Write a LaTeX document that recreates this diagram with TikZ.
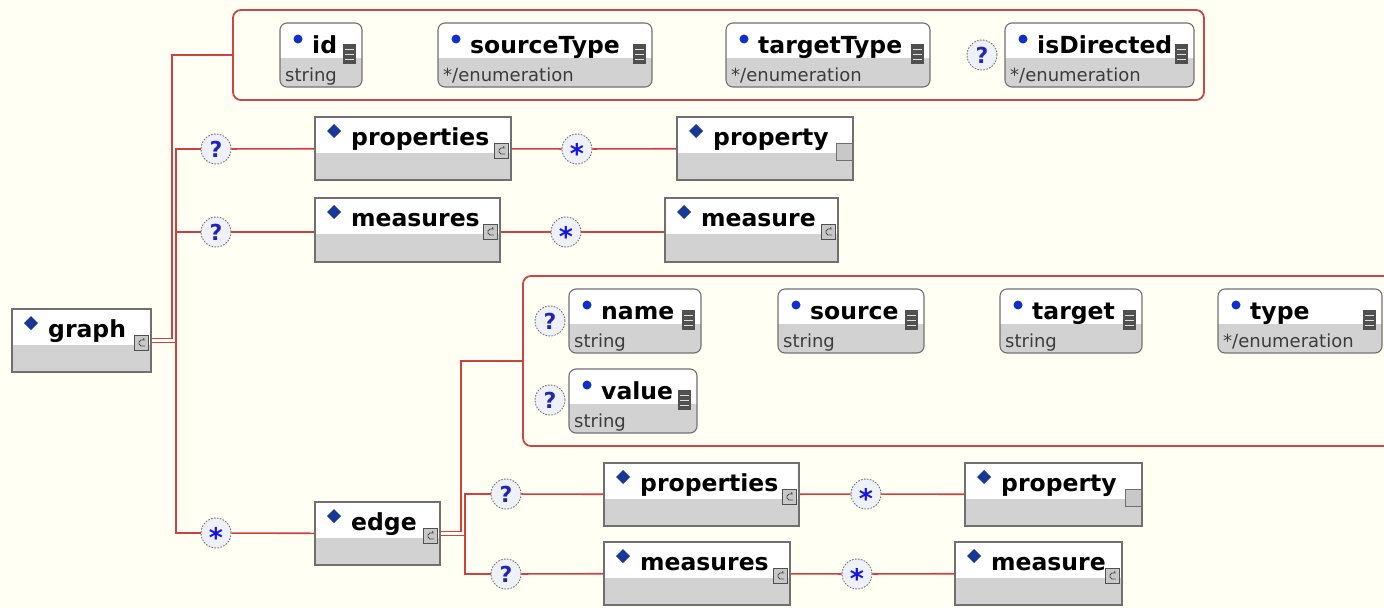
\documentclass[tikz,border=0pt]{standalone}
\usepackage{fontspec}
\setmainfont{DejaVu Sans}
\usetikzlibrary{fit}
\definecolor{bg}{RGB}{255,255,243}
\definecolor{redline}{RGB}{208,64,64}
\definecolor{grpred}{RGB}{204,70,70}
\definecolor{elgray}{RGB}{210,210,210}
\definecolor{elborder}{RGB}{112,112,112}
\definecolor{diamblue}{RGB}{24,56,150}
\definecolor{dotblue}{RGB}{16,48,200}
\definecolor{qblue}{RGB}{36,36,180}
\definecolor{sblue}{RGB}{20,20,230}
\definecolor{circfill}{RGB}{238,241,247}
\definecolor{circborder}{RGB}{115,115,115}
\definecolor{icongray}{RGB}{200,200,200}
\definecolor{icondark}{RGB}{80,80,80}
\definecolor{subtext}{RGB}{60,60,60}
\tikzset{
  conn/.style={draw=redline, line width=1.6pt},
  grp/.style={draw=grpred, line width=1.8pt, rounded corners=8pt, inner sep=0pt},
  elframe/.style={draw=elborder, line width=1.3pt, inner sep=0pt},
  atframe/.style={draw=elborder, line width=1.1pt, rounded corners=7pt, inner sep=0pt},
  ellabel/.style={anchor=base west, inner sep=0pt, font=\fontsize{23.5}{23.5}\selectfont\bfseries},
  sublabel/.style={anchor=base west, inner sep=0pt, font=\fontsize{18}{18}\selectfont, text=subtext},
  occ/.style={circle, minimum size=30pt, inner sep=0pt, fill=circfill, draw=circborder, line width=0.9pt, dash pattern=on 1.6pt off 1.4pt},
  qmark/.style={occ, text=qblue, font=\fontsize{22}{22}\selectfont\bfseries},
  smark/.style={occ, text=sblue, font=\fontsize{27}{27}\selectfont\bfseries},
}
% icons: #1 = x2, #2 = y1
\newcommand{\iconC}[2]{%
  \draw[fill=icongray, draw=icondark, line width=0.8pt] ({#1-17},{#2+26}) rectangle ({#1-3},{#2+41});
  \draw[icondark, line width=0.8pt] ({#1-6},{#2+31}) -- ({#1-10},{#2+31}) -- ({#1-12},{#2+33}) -- ({#1-12},{#2+35}) -- ({#1-10},{#2+37}) -- ({#1-6},{#2+37});
  \draw[icondark, line width=0.8pt] ({#1-8},{#2+31}) -- ({#1-7},{#2+29});
}
\newcommand{\iconS}[2]{%
  \draw[fill=icongray, draw=elborder, line width=0.8pt] ({#1-17},{#2+26}) rectangle ({#1-1},{#2+43});
}
\newcommand{\iconA}[2]{%
  \fill[icondark] ({#1-19},{#2+21}) rectangle ({#1-6},{#2+41});
  \foreach \yy in {26,31,36} \draw[white!75!gray, line width=1pt] ({#1-17},{#2+\yy}) -- ({#1-8},{#2+\yy});
}
% element box: name x1 y1 x2 y2 label icon
\newcommand{\elbox}[7]{%
  \fill[white] (#2,#3) rectangle (#4,#5);
  \fill[elgray] (#2,{#3+36}) rectangle (#4,#5);
  \node[elframe, fit={(#2,#3) (#4,#5)}] (#1) {};
  \fill[diamblue] ({#2+19},{#3+7}) -- ({#2+26},{#3+14}) -- ({#2+19},{#3+21}) -- ({#2+12},{#3+14}) -- cycle;
  \node[ellabel] (#1-l) at ({#2+36},{#3+28}) {#6};
  \csname icon#7\endcsname{#4}{#3}%
}
% attribute box: name x1 y1 x2 y2 label subtext
\newcommand{\atbox}[7]{%
  \begin{scope}
    \clip[rounded corners=7pt] (#2,#3) rectangle (#4,#5);
    \fill[white] (#2,#3) rectangle (#4,{#3+35});
    \fill[elgray] (#2,{#3+35}) rectangle (#4,#5);
  \end{scope}
  \node[atframe, fit={(#2,#3) (#4,#5)}] (#1) {};
  \fill[dotblue] ({#2+18},{#3+16}) circle (4.5pt);
  \node[ellabel] (#1-l) at ({#2+32},{#3+30}) {#6};
  \node[sublabel] (#1-s) at ({#2+5},{#3+58}) {#7};
  \iconA{#4}{#3}%
}
\begin{document}
\begin{tikzpicture}[x=1pt, y=-1pt]
\useasboundingbox (0,0) rectangle (1384,608);
\fill[bg] (0,0) rectangle (1384,608);
\clip (0,0) rectangle (1384,608);

% attribute groups
\node[grp, fit={(233,10) (1204,100)}] (grpA) {};
\node[grp, fit={(523,276) (1420,446)}] (grpB) {};

% attributes of graph
\atbox{id}{280}{23}{362}{87}{id}{string}
\atbox{sourceType}{438}{23}{652}{87}{sourceType}{*/enumeration}
\atbox{targetType}{726}{23}{930}{87}{targetType}{*/enumeration}
\atbox{isDirected}{1005}{23}{1194}{87}{isDirected}{*/enumeration}
\node[qmark] (oq0) at (982,55) {?};

% attributes of edge
\atbox{ename}{569}{289}{701}{353}{name}{string}
\atbox{esource}{778}{289}{924}{353}{source}{string}
\atbox{etarget}{1000}{289}{1142}{353}{target}{string}
\atbox{etype}{1218}{289}{1382}{353}{type}{*/enumeration}
\atbox{evalue}{569}{369}{697}{433}{value}{string}
\node[qmark] (oqn) at (550,321) {?};
\node[qmark] (oqv) at (550,400) {?};

% elements
\elbox{graph}{12}{309}{151}{372}{graph}{C}
\elbox{properties1}{315}{117}{511}{180}{properties}{C}
\elbox{property1}{677}{117}{853}{180}{property}{S}
\elbox{measures1}{315}{198}{500}{262}{measures}{C}
\elbox{measure1}{665}{198}{838}{262}{measure}{C}
\elbox{edge}{315}{502}{440}{565}{edge}{C}
\elbox{properties2}{604}{463}{799}{526}{properties}{C}
\elbox{property2}{965}{463}{1142}{526}{property}{S}
\elbox{measures2}{604}{542}{790}{605}{measures}{C}
\elbox{measure2}{955}{542}{1122}{605}{measure}{C}

% occurrence markers
\node[qmark] (oq1) at (216,149) {?};
\node[qmark] (oq2) at (216,232) {?};
\node[smark] (os1) at (216,533) {\smash{\raisebox{-14.5pt}{*}}};
\node[smark] (os2) at (577,149) {\smash{\raisebox{-14.5pt}{*}}};
\node[smark] (os3) at (566,232) {\smash{\raisebox{-14.5pt}{*}}};
\node[qmark] (oq5) at (506,494) {?};
\node[qmark] (oq6) at (506,574) {?};
\node[smark] (os5) at (866,494) {\smash{\raisebox{-14.5pt}{*}}};
\node[smark] (os6) at (857,574) {\smash{\raisebox{-14.5pt}{*}}};

% buses
\coordinate (busA) at (172,0);
\coordinate (busB) at (176,0);
\coordinate (busC) at (461,0);
\coordinate (busD) at (465,0);

% connectors from graph
\draw[conn] ([yshift=2pt]graph.east) -| (busA |- grpA.west) -- (grpA.west);
\draw[conn] ([yshift=-2pt]graph.east) -| (busB |- oq1) -- (oq1);
\draw[conn] (busB |- oq2) -- (oq2);
\draw[conn] ([yshift=-2pt]graph.east) -| (busB |- os1) -- (os1);
\draw[conn] (oq1) -- (properties1);
\draw[conn] (properties1) -- (os2);
\draw[conn] (os2) -- (property1);
\draw[conn] (oq2) -- (measures1.west |- oq2);
\draw[conn] (measures1.east |- os3) -- (os3);
\draw[conn] (os3) -- (measure1.west |- os3);
\draw[conn] (os1) -- (edge);

% connectors from edge
\draw[conn] ([yshift=2pt]edge.east) -| (busC |- grpB.west) -- (grpB.west);
\draw[conn] ([yshift=-2pt]edge.east) -| (busD |- oq5) -- (oq5);
\draw[conn] ([yshift=-2pt]edge.east) -| (busD |- oq6) -- (oq6);
\draw[conn] (oq5) -- (properties2);
\draw[conn] (properties2) -- (os5);
\draw[conn] (os5) -- (property2);
\draw[conn] (oq6) -- (measures2);
\draw[conn] (measures2) -- (os6);
\draw[conn] (os6) -- (measure2);
\end{tikzpicture}
\end{document}
